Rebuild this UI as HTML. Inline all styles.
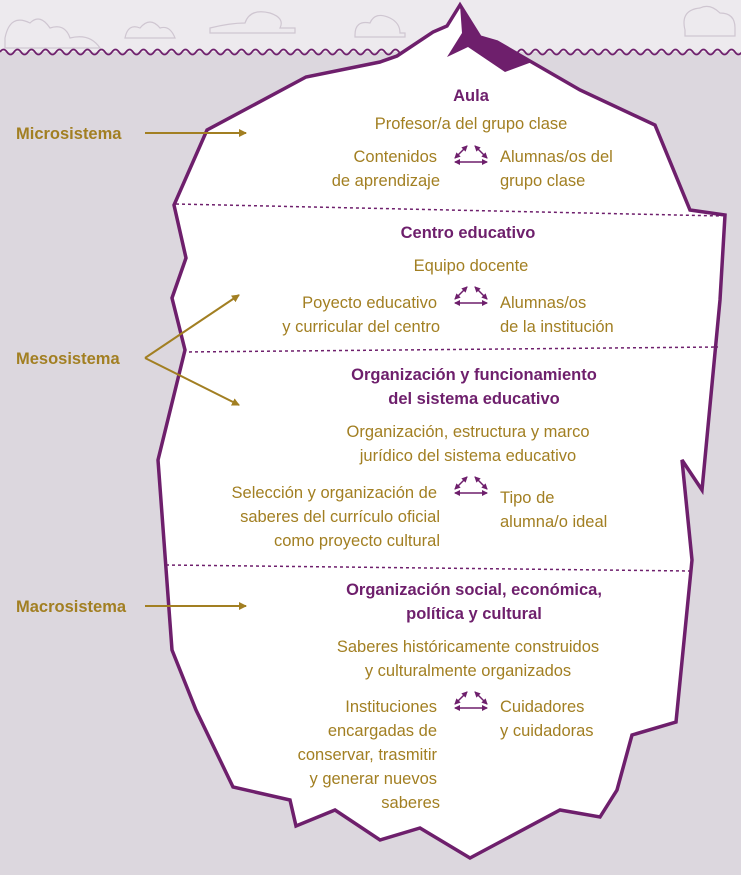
<!DOCTYPE html>
<html><head><meta charset="utf-8"><style>
html,body{margin:0;padding:0;}
svg{display:block;}
text{font-family:"Liberation Sans Narrow","Liberation Sans",sans-serif;font-size:16.5px;}
.g{fill:#a27f22;}
.p{fill:#6e1f6c;font-weight:bold;}
</style></head><body>
<svg width="741" height="875" viewBox="0 0 741 875" xmlns="http://www.w3.org/2000/svg">
<defs>
<marker id="ah" markerWidth="8" markerHeight="8" refX="7" refY="4" orient="auto" markerUnits="userSpaceOnUse"><path d="M0,0 L8,4 L0,8 Z" fill="#a27f22"/></marker>
<marker id="pa" markerWidth="6" markerHeight="6" refX="5" refY="3" orient="auto-start-reverse" markerUnits="userSpaceOnUse"><path d="M0,0 L6,3 L0,6 Z" fill="#6e1f6c"/></marker>
</defs>
<rect x="0" y="0" width="741" height="52" fill="#edeaee"/>
<rect x="0" y="52" width="741" height="823" fill="#dcd7de"/>
<g fill="none" stroke="#cfc6d1" stroke-width="1.2">
<path d="M5,38 q5,-25 25,-15 q10,-10 20,5 q15,-5 20,10 q20,-5 30,10 H5z"/>
<path d="M125,38 q3,-15 15,-10 q10,-12 20,0 q10,-3 15,10z"/>
<path d="M210,28 q20,-5 35,-5 q5,-15 25,-10 q15,5 10,15 h15 v5 h-85z"/>
<path d="M355,35 q0,-15 15,-12 q5,-12 20,-5 q10,5 10,15 h5 v4 h-50z"/>
<path d="M685,30 q-5,-20 15,-22 q10,-5 20,5 q15,0 15,15 v8 h-50z"/>
</g>
<path d="M0,52 q3.5,-5 7,0 t7,0 t7,0 t7,0 t7,0 t7,0 t7,0 t7,0 t7,0 t7,0 t7,0 t7,0 t7,0 t7,0 t7,0 t7,0 t7,0 t7,0 t7,0 t7,0 t7,0 t7,0 t7,0 t7,0 t7,0 t7,0 t7,0 t7,0 t7,0 t7,0 t7,0 t7,0 t7,0 t7,0 t7,0 t7,0 t7,0 t7,0 t7,0 t7,0 t7,0 t7,0 t7,0 t7,0 t7,0 t7,0 t7,0 t7,0 t7,0 t7,0 t7,0 t7,0 t7,0 t7,0 t7,0 t7,0 t7,0 t7,0 t7,0 t7,0 t7,0 t7,0 t7,0 t7,0 t7,0 t7,0 t7,0 t7,0 t7,0 t7,0 t7,0 t7,0 t7,0 t7,0 t7,0 t7,0 t7,0 t7,0 t7,0 t7,0 t7,0 t7,0 t7,0 t7,0 t7,0 t7,0 t7,0 t7,0 t7,0 t7,0 t7,0 t7,0 t7,0 t7,0 t7,0 t7,0 t7,0 t7,0 t7,0 t7,0 t7,0 t7,0 t7,0 t7,0 t7,0 t7,0 t7,0 t7,0" fill="none" stroke="#6e1f6c" stroke-width="1.8"/>
<path d="M460,5 L447,26 L433,32 L397,56 L380,62 L306,77 L207,130 L174,205 L186,258 L172,298 L185,350 L158,460 L172,650 L196,710 L233,787 L290,800 L296,826 L335,810 L380,840 L420,828 L470,858 L560,810 L600,817 L617,790 L632,735 L676,722 L692,560 L682,460 L702,490 L720,300 L725,215 L690,210 L655,125 L580,90 L497,42 L480,37 Z" fill="#fff" stroke="#6e1f6c" stroke-width="3.5" stroke-linejoin="miter"/>
<path d="M460,5 L480,37 L497,42 L532,62 L505,72 L468,47 L447,57 L462,33 Z" fill="#6e1f6c"/>
<g stroke="#6e1f6c" stroke-width="1.5" stroke-dasharray="3,3">
<line x1="176" y1="204" x2="722" y2="216"/>
<line x1="183" y1="352" x2="718" y2="347"/>
<line x1="166" y1="565" x2="690" y2="571"/>
</g>
<g stroke="#a27f22" stroke-width="2" fill="none">
<line x1="145" y1="133" x2="246" y2="133" marker-end="url(#ah)"/>
<line x1="145" y1="358" x2="239" y2="295" marker-end="url(#ah)"/>
<line x1="145" y1="358" x2="239" y2="405" marker-end="url(#ah)"/>
<line x1="145" y1="606" x2="246" y2="606" marker-end="url(#ah)"/>
</g>
<g class="g" style="font-weight:bold">
<text x="16" y="139">Microsistema</text>
<text x="16" y="364">Mesosistema</text>
<text x="16" y="612">Macrosistema</text>
</g>
<g stroke="#6e1f6c" stroke-width="1.5">
<g transform="translate(0,0)"><line x1="455" y1="158" x2="467" y2="146" marker-end="url(#pa)" marker-start="url(#pa)"/><line x1="475" y1="146" x2="487" y2="158" marker-end="url(#pa)" marker-start="url(#pa)"/><line x1="455" y1="162" x2="487" y2="162" marker-end="url(#pa)" marker-start="url(#pa)"/></g>
<g transform="translate(0,141)"><line x1="455" y1="158" x2="467" y2="146" marker-end="url(#pa)" marker-start="url(#pa)"/><line x1="475" y1="146" x2="487" y2="158" marker-end="url(#pa)" marker-start="url(#pa)"/><line x1="455" y1="162" x2="487" y2="162" marker-end="url(#pa)" marker-start="url(#pa)"/></g>
<g transform="translate(0,331)"><line x1="455" y1="158" x2="467" y2="146" marker-end="url(#pa)" marker-start="url(#pa)"/><line x1="475" y1="146" x2="487" y2="158" marker-end="url(#pa)" marker-start="url(#pa)"/><line x1="455" y1="162" x2="487" y2="162" marker-end="url(#pa)" marker-start="url(#pa)"/></g>
<g transform="translate(0,546)"><line x1="455" y1="158" x2="467" y2="146" marker-end="url(#pa)" marker-start="url(#pa)"/><line x1="475" y1="146" x2="487" y2="158" marker-end="url(#pa)" marker-start="url(#pa)"/><line x1="455" y1="162" x2="487" y2="162" marker-end="url(#pa)" marker-start="url(#pa)"/></g>
</g>
<g text-anchor="middle">
<text class="p" x="471" y="101">Aula</text>
<text class="g" x="471" y="129">Profesor/a del grupo clase</text>
<text class="p" x="468" y="238">Centro educativo</text>
<text class="g" x="471" y="271">Equipo docente</text>
<text class="p" x="474" y="380">Organización y funcionamiento</text>
<text class="p" x="474" y="404">del sistema educativo</text>
<text class="g" x="468" y="437">Organización, estructura y marco</text>
<text class="g" x="468" y="461">jurídico del sistema educativo</text>
<text class="p" x="474" y="595">Organización social, económica,</text>
<text class="p" x="474" y="619">política y cultural</text>
<text class="g" x="468" y="652">Saberes históricamente construidos</text>
<text class="g" x="468" y="676">y culturalmente organizados</text>
</g>
<g text-anchor="end" class="g">
<text x="437" y="162">Contenidos</text><text x="440" y="186">de aprendizaje</text>
<text x="437" y="308">Poyecto educativo</text><text x="440" y="332">y curricular del centro</text>
<text x="437" y="498">Selección y organización de</text><text x="440" y="522">saberes del currículo oficial</text><text x="440" y="546">como proyecto cultural</text>
<text x="437" y="712">Instituciones</text><text x="437" y="736">encargadas de</text><text x="437" y="760">conservar, trasmitir</text><text x="437" y="784">y generar nuevos</text><text x="440" y="808">saberes</text>
</g>
<g class="g">
<text x="500" y="162">Alumnas/os del</text><text x="500" y="186">grupo clase</text>
<text x="500" y="308">Alumnas/os</text><text x="500" y="332">de la institución</text>
<text x="500" y="503">Tipo de</text><text x="500" y="527">alumna/o ideal</text>
<text x="500" y="712">Cuidadores</text><text x="500" y="736">y cuidadoras</text>
</g>
</svg>
</body></html>
